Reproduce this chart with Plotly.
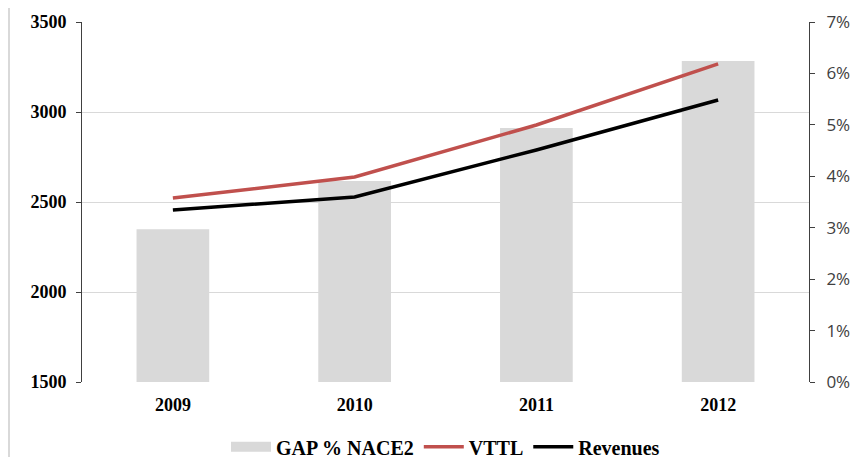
import plotly.graph_objects as go

years = ["2009", "2010", "2011", "2012"]
gap_pct = [2.97, 3.91, 4.94, 6.24]
vttl = [2522, 2639, 2928, 3267]
revenues = [2456, 2528, 2789, 3067]

pct_ticks = [0, 1, 2, 3, 4, 5, 6, 7]
pct_labels = ["0%", "1%", "2%", "3%", "4%", "5%", "6%", "7%"]
left_ticks = [1500, 2000, 2500, 3000, 3500]

serif = "Liberation Serif, Times New Roman, serif"
sans = "Open Sans, DejaVu Sans, sans-serif"

fig = go.Figure()
# bars on the primary (percent) axis so the lines on the overlay sit on top
fig.add_trace(go.Bar(
    x=years, y=gap_pct, name="GAP % NACE2",
    marker=dict(color="#D9D9D9", line=dict(width=0)),
    width=0.4, yaxis="y", showlegend=False,
))
# legend-only entry drawn as a thick grey block
fig.add_trace(go.Scatter(
    x=[None], y=[None], name="GAP % NACE2", mode="lines",
    line=dict(color="#D9D9D9", width=12), yaxis="y2",
))
fig.add_trace(go.Scatter(
    x=years, y=vttl, name="VTTL", mode="lines",
    line=dict(color="#C0504D", width=3.5), yaxis="y2",
))
fig.add_trace(go.Scatter(
    x=years, y=revenues, name="Revenues", mode="lines",
    line=dict(color="#000000", width=3.5), yaxis="y2",
))

# the page body adds an 8px offset, margins are shifted to compensate
fig.update_layout(
    width=863, height=457,
    margin=dict(l=74, r=62, t=14, b=83),
    plot_bgcolor="white", paper_bgcolor="white",
    showlegend=True,
    legend=dict(
        orientation="h", x=0.5, xanchor="center",
        yref="container", y=0.04, yanchor="middle",
        font=dict(family=serif, size=20, color="black", weight="bold"),
        traceorder="normal", itemwidth=40,
    ),
    xaxis=dict(
        showline=False, ticks="", showgrid=False, automargin=False,
        ticklabelstandoff=10,
        tickfont=dict(family=serif, size=18, color="black", weight="bold"),
    ),
    yaxis=dict(
        side="right", automargin=False,
        range=[0, 7], tickvals=pct_ticks, ticktext=pct_labels,
        showline=True, linecolor="#404040", linewidth=1,
        ticks="outside", ticklen=5, tickcolor="#404040",
        ticklabelstandoff=8,
        showgrid=False, zeroline=False,
        minor=dict(tick0=0, dtick=1.75, showgrid=True, gridcolor="#D9D9D9",
                   gridwidth=1, ticks=""),
        tickfont=dict(family=sans, size=17, color="#404040"),
    ),
    yaxis2=dict(
        overlaying="y", side="left", automargin=False,
        range=[1500, 3500], tickvals=left_ticks,
        showline=True, linecolor="#404040", linewidth=1,
        ticks="outside", ticklen=5, tickcolor="#404040",
        ticklabelstandoff=6,
        showgrid=False, zeroline=False,
        tickfont=dict(family=serif, size=18, color="black", weight="bold"),
    ),
    shapes=[dict(type="line", xref="paper", yref="paper",
                 x0=-0.1004, x1=-0.1004, y0=-0.25, y1=1.05,
                 line=dict(color="#D9D9D9", width=2))],
)

fig.write_html("out.html")
